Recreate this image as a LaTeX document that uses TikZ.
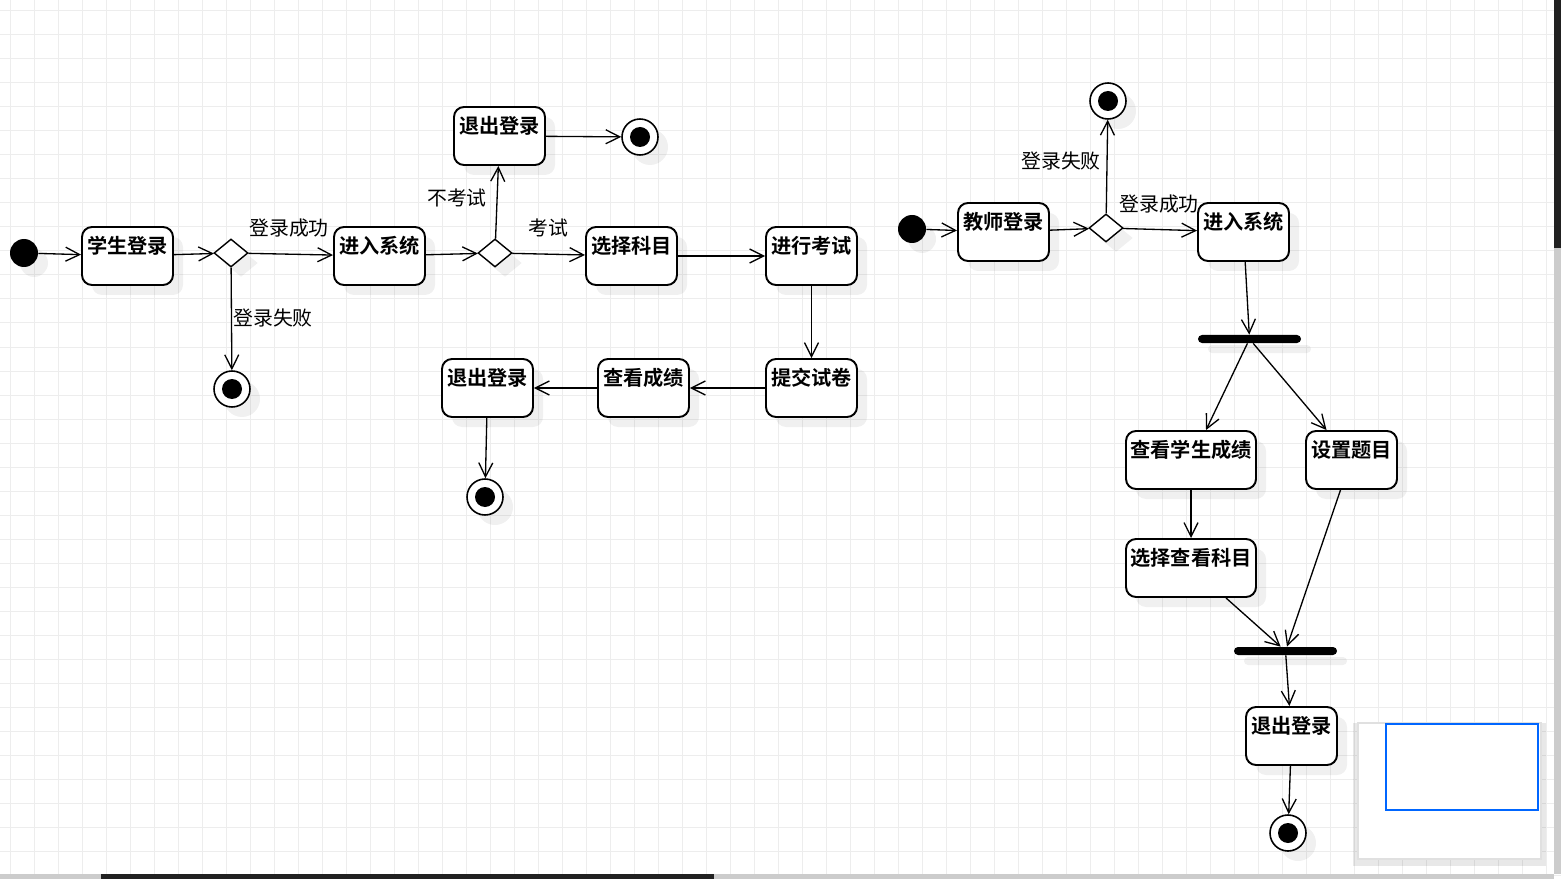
\documentclass[tikz,border=0pt]{standalone}
\usepackage{fontspec}
\newfontfamily\cjk[BoldFont={Noto Sans CJK SC Bold}]{Noto Sans CJK SC}
\usepackage{tikz}
\usetikzlibrary{shapes.geometric, arrows.meta, shadows}

\begin{document}
\begin{tikzpicture}[x=0.2mm,y=-0.2mm,
  gridline/.style={line width=0.2mm,color=black!7},
  shade/.style={drop shadow={shadow xshift=2mm,shadow yshift=-2mm,fill=black,opacity=0.06}},
  act/.style={draw,rectangle,rounded corners=2mm,line width=1.1pt,fill=white,shade,
    minimum width=18.2mm,inner sep=0pt,text height=5.3mm,text depth=6.3mm,font=\cjk\bfseries\fontsize{11.5pt}{13pt}\selectfont},
  wideact/.style={act,minimum width=26mm},
  decide/.style={draw,diamond,line width=0.8pt,fill=white,shade,inner sep=0pt,minimum width=6.8mm,minimum height=5.6mm},
  startst/.style={circle,fill=black,shade,inner sep=0pt,minimum size=5.6mm},
  endst/.style={draw,circle,line width=0.9pt,fill=white,shade,inner sep=0pt,minimum size=7.2mm,
    path picture={\fill[black] (path picture bounding box.center) circle (2mm);}},
  syncbar/.style={rectangle,fill=black,rounded corners=0.8mm,shade,inner sep=0pt,minimum width=20.6mm,minimum height=1.6mm},
  lbl/.style={font=\cjk\fontsize{11.3pt}{13pt}\selectfont,inner sep=0pt},
  flow/.style={line width=0.75pt,-{Straight Barb[length=2.8mm,width=2.8mm]}}]

\fill[white] (0,0) rectangle (1561,879);
\useasboundingbox (0,0) rectangle (1561,879);
\foreach \gx in {10,34,...,1558} \draw[gridline] (\gx,0) -- (\gx,879);
\foreach \gy in {11,35,...,875} \draw[gridline] (0,\gy) -- (1561,\gy);

\node[startst] (s0) at (24,253){};
\node[act] (slogin) at (127.5,256){学生登录};
\node[decide] (d1) at (231,253){};
\node[endst] (e1) at (232,389){};
\node[act] (ssys) at (379.5,256){进入系统};
\node[decide] (d2) at (495,253){};
\node[act] (sexit1) at (499.5,136){退出登录};
\node[endst] (e2) at (640,137){};
\node[act] (ssel) at (631.5,256){选择科目};
\node[act] (sexam) at (811.5,256){进行考试};
\node[act] (ssub) at (811.5,388){提交试卷};
\node[act] (sscore) at (643.5,388){查看成绩};
\node[act] (sexit2) at (487.5,388){退出登录};
\node[endst] (e3) at (485,497){};

\node[lbl] (l1) at (289,228){登录成功};
\node[lbl] (l2) at (273,318){登录失败};
\node[lbl] (l3) at (457,198){不考试};
\node[lbl] (l4) at (548,228){考试};

\draw[flow] (s0) to (slogin);
\draw[flow] (slogin) to (d1);
\draw[flow] (d1) to (ssys);
\draw[flow] (d1) to (e1);
\draw[flow] (ssys) to (d2);
\draw[flow] (d2) to (sexit1);
\draw[flow] (d2) to (ssel);
\draw[flow] (sexit1) to (e2);
\draw[flow] (ssel) to (sexam);
\draw[flow] (sexam) to (ssub);
\draw[flow] (ssub) to (sscore);
\draw[flow] (sscore) to (sexit2);
\draw[flow] (sexit2) to (e3);

\node[startst] (t0) at (912,229){};
\node[act] (tlogin) at (1003.5,232){教师登录};
\node[decide] (d3) at (1106,228){};
\node[endst] (e4) at (1108,101){};
\node[act] (tsys) at (1243.5,232){进入系统};
\node[syncbar] (fork) at (1249.5,339){};
\node[wideact] (tview) at (1191,460){查看学生成绩};
\node[act] (tset) at (1351.5,460){设置题目};
\node[wideact] (tsel) at (1191,568){选择查看科目};
\node[syncbar] (join) at (1285.5,651){};
\node[act] (texit) at (1291.5,736){退出登录};
\node[endst] (e5) at (1288,833){};

\node[lbl] (l5) at (1061,161){登录失败};
\node[lbl] (l6) at (1159,204){登录成功};

\draw[flow] (t0) to (tlogin);
\draw[flow] (tlogin) to (d3);
\draw[flow] (d3) to (e4);
\draw[flow] (d3) to (tsys);
\draw[flow] (tsys) to (fork);
\draw[flow] (fork) to ([xshift=3mm]tview.north);
\draw[flow] (fork) to ([xshift=-5mm]tset.north);
\draw[flow] (tview) to (tsel);
\draw[flow] ([xshift=7mm]tsel.south) to (join);
\draw[flow] ([xshift=-2.2mm]tset.south) to (join);
\draw[flow] (join) to (texit);
\draw[flow] (texit) to (e5);

\node[draw=black!12,line width=0.3mm,fill=white,rectangle,inner sep=0pt,minimum width=36.6mm,minimum height=27.2mm,
  drop shadow={shadow xshift=0mm,shadow yshift=-0.6mm,fill=black,opacity=0.09,shadow scale=1.05}] (mini) at (1449.5,791){};
\node[draw=blue!60!cyan,line width=0.3mm,rectangle,inner sep=0pt,minimum width=30.4mm,minimum height=17.2mm] (view) at (1462,767){};

\fill[black!20] (0,874) rectangle (1554,879);
\fill[black!87] (101,874) rectangle (714,879);
\fill[black!20] (1554,0) rectangle (1561,874);
\fill[black!87] (1554,0) rectangle (1561,248);
\end{tikzpicture}
\end{document}
